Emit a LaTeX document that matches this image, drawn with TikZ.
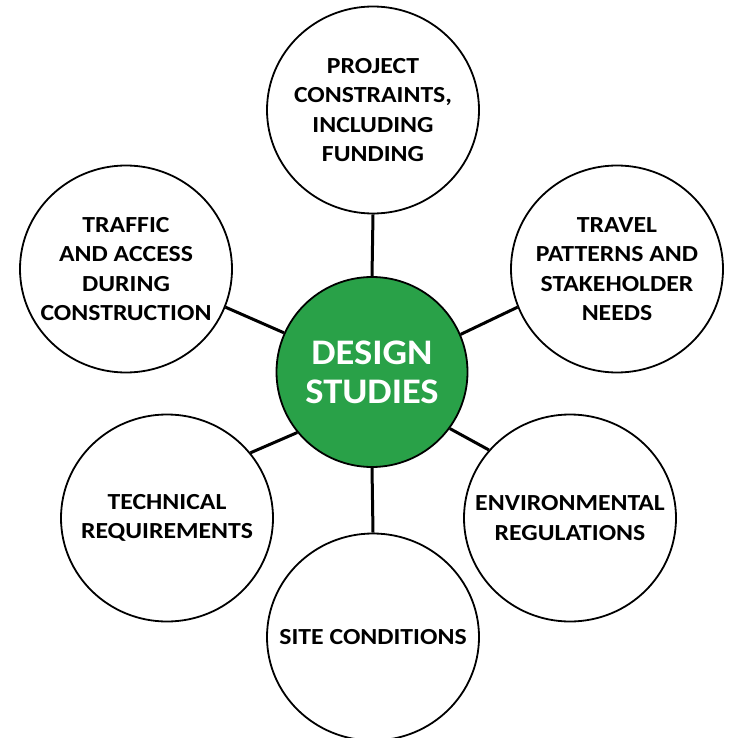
\documentclass[tikz,border=0pt]{standalone}
\usepackage{fontspec}
\setmainfont{Carlito}[FakeStretch=1.12]
\newfontfamily\hubfont{Carlito}[FakeStretch=1.07]
\usetikzlibrary{shapes.geometric}
\definecolor{dsgreen}{RGB}{41,161,72}
\begin{document}
\begin{tikzpicture}[x=1pt,y=-1pt,
  bubble/.style={ellipse, draw=black, line width=1.8pt, fill=white, minimum width=212pt, minimum height=207pt, inner sep=0pt},
  hub/.style={ellipse, draw=black, line width=1.8pt, fill=dsgreen, minimum width=191pt, minimum height=190pt, inner sep=0pt},
  txt/.style={align=center, font=\bfseries\fontsize{23}{29.5}\selectfont, text=black, inner sep=0pt},
  hubtxt/.style={align=center, font=\hubfont\bfseries\fontsize{36}{39}\selectfont, text=white, inner sep=0pt},
  link/.style={line width=3pt, draw=black}]
\useasboundingbox (0,0) rectangle (729,738);
\node[bubble] (top) at (373,110) {};
\node[bubble] (tl) at (126,269) {};
\node[bubble] (tr) at (617,269) {};
\node[hub] (hub) at (372,372) {};
\node[bubble] (bl) at (167,518) {};
\node[bubble] (br) at (570,518) {};
\node[bubble] (bot) at (373,637) {};
\draw[link] (hub.90) -- (top.270);
\draw[link] (hub.156) -- (tl.-21);
\draw[link] (hub.23) -- (tr.201);
\draw[link] (hub.219) -- (bl.38);
\draw[link] (hub.-36) -- (br.140);
\draw[link] (hub.270) -- (bot.90);
\node[txt] (toptxt) at (top.center) {PROJECT\\CONSTRAINTS,\\INCLUDING\\FUNDING};
\node[txt] (tltxt) at (tl.center) {TRAFFIC\\AND ACCESS\\DURING\\CONSTRUCTION};
\node[txt] (trtxt) at (tr.center) {TRAVEL\\PATTERNS AND\\STAKEHOLDER\\NEEDS};
\node[txt] (bltxt) at (bl.center) {TECHNICAL\\REQUIREMENTS};
\node[txt] (brtxt) at (br.center) {ENVIRONMENTAL\\REGULATIONS};
\node[txt] (bottxt) at (bot.center) {SITE CONDITIONS};
\node[hubtxt] (hubtxt) at (hub.center) {DESIGN\\STUDIES};
\end{tikzpicture}
\end{document}
